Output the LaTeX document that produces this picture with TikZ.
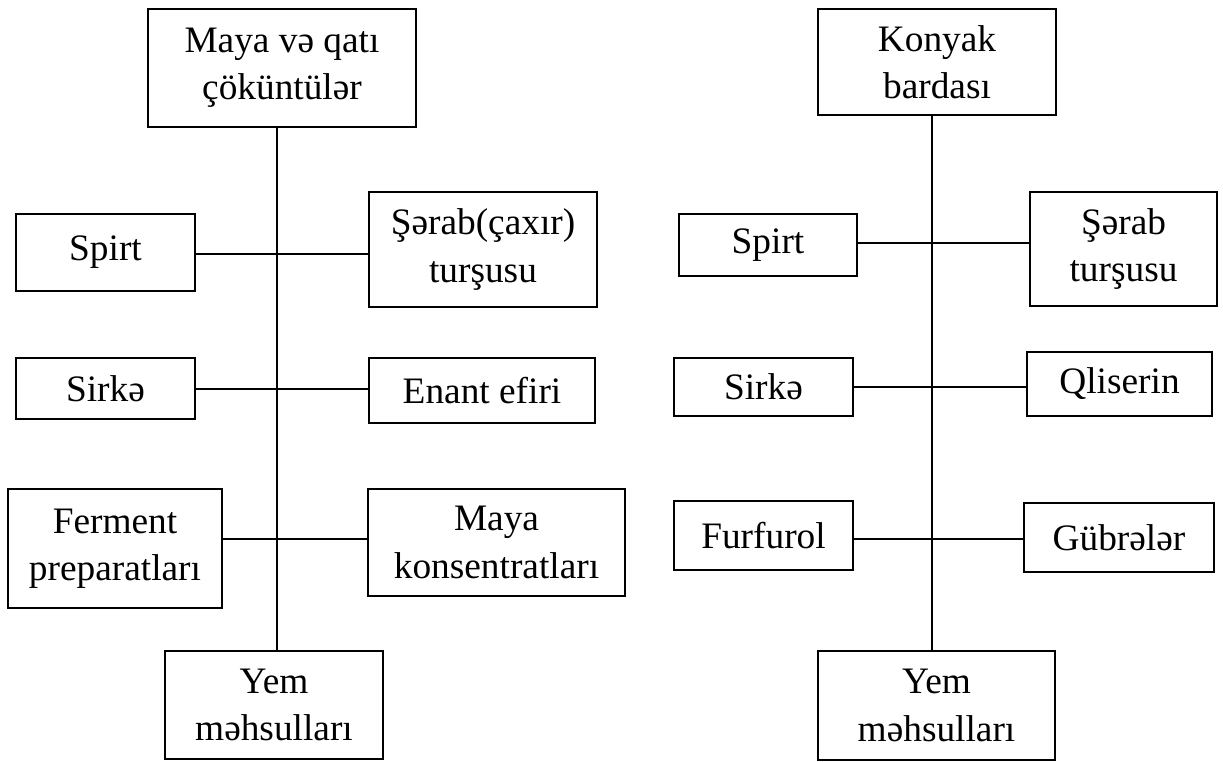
\documentclass[tikz,border=0pt]{standalone}
\usepackage{fontspec}
\setmainfont{Liberation Serif}
\begin{document}
\begin{tikzpicture}[x=0.75pt,y=-0.75pt,
  box/.style={draw,line width=1.3pt,rectangle,inner sep=0pt,align=center,
    font=\fontsize{28}{35.5}\selectfont},
  sz/.style 2 args={minimum width=0.75*#1,minimum height=0.75*#2},
  link/.style={line width=1.3pt}]
\useasboundingbox (0,0) rectangle (1223,762);

% left scheme: yeast and solid sediments
\node[box,sz={268}{118}] (top1) at (282,68) {Maya və qatı\\çöküntülər};
\node[box,sz={179}{77}] (spirt1) at (105.5,252.5) {Spirt};
\node[box,sz={228}{115}] (sherab1) at (483,249.5) {Şərab(çaxır)\\turşusu};
\node[box,sz={179}{61}] (sirke1) at (105.5,388.5) {Sirkə};
\node[box,sz={226}{65}] (enant1) at (482,390.5) {Enant efiri};
\node[box,sz={214}{119}] (ferment1) at (115,548.5) {Ferment\\preparatları};
\node[box,sz={257}{107}] (maya1) at (496.5,542.5) {Maya\\konsentratları};
\node[box,sz={218}{108}] (yem1) at (274,705) {Yem\\məhsulları};

\coordinate (s1) at (277,0);
\coordinate (a1) at (277,254);
\coordinate (b1) at (277,389);
\coordinate (c1) at (277,539);
\draw[link] (top1.south -| s1) -- (yem1.north -| s1);
\draw[link] (a1 -| spirt1.east) -- (a1 -| sherab1.west);
\draw[link] (b1 -| sirke1.east) -- (b1 -| enant1.west);
\draw[link] (c1 -| ferment1.east) -- (c1 -| maya1.west);

% right scheme: cognac stillage
\node[box,sz={238}{106}] (top2) at (937,62) {Konyak\\bardası};
\node[box,sz={178}{62}] (spirt2) at (768,245) {Spirt};
\node[box,sz={187}{114}] (sherab2) at (1123.5,249) {Şərab\\turşusu};
\node[box,sz={179}{58}] (sirke2) at (763.5,387) {Sirkə};
\node[box,sz={185}{64}] (qlis2) at (1119.5,384) {Qliserin};
\node[box,sz={179}{69}] (furf2) at (763.5,535.5) {Furfurol};
\node[box,sz={190}{69}] (gubr2) at (1119,537.5) {Gübrələr};
\node[box,sz={237}{109}] (yem2) at (936.5,705.5) {Yem\\məhsulları};

\coordinate (s2) at (932,0);
\coordinate (a2) at (932,243);
\coordinate (b2) at (932,387);
\coordinate (c2) at (932,539);
\draw[link] (top2.south -| s2) -- (yem2.north -| s2);
\draw[link] (a2 -| spirt2.east) -- (a2 -| sherab2.west);
\draw[link] (b2 -| sirke2.east) -- (b2 -| qlis2.west);
\draw[link] (c2 -| furf2.east) -- (c2 -| gubr2.west);
\end{tikzpicture}
\end{document}
